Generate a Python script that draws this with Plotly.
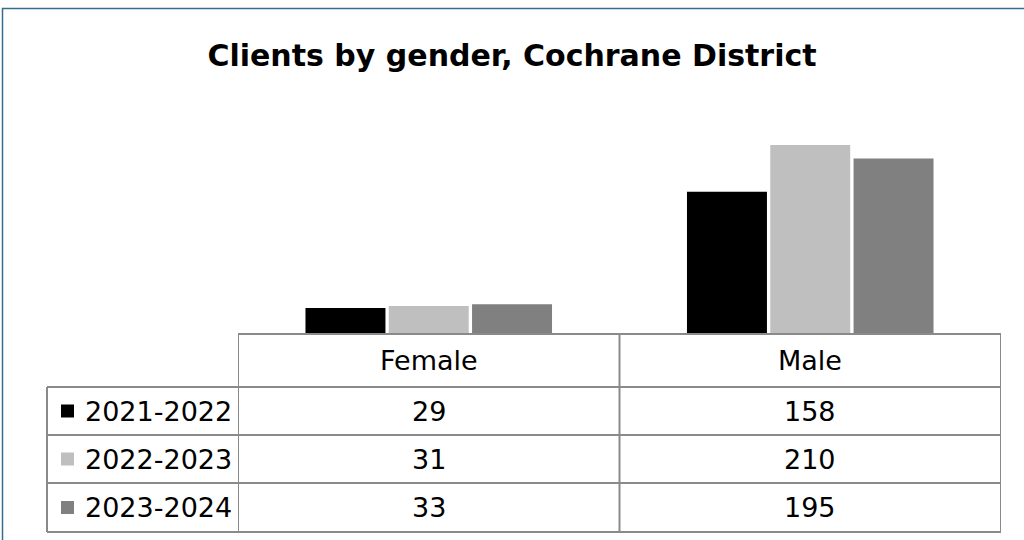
import plotly.graph_objects as go

# ---- data ----
categories = ["Female", "Male"]
series_names = ["2021-2022", "2022-2023", "2023-2024"]
values_2021_2022 = [29, 158]
values_2022_2023 = [31, 210]
values_2023_2024 = [33, 195]
series_colors = ["#000000", "#BFBFBF", "#808080"]
title_text = "Clients by gender, Cochrane District"

series_values = [values_2021_2022, values_2022_2023, values_2023_2024]

W, H = 1024, 540
FONT = "DejaVu Sans"
GRID = "#8A8A8A"


def px(x):
    return x / W


def py(y):
    return (H - y) / H


fig = go.Figure()
for name, vals, col in zip(series_names, series_values, series_colors):
    fig.add_trace(go.Bar(x=categories, y=vals, name=name,
                         marker=dict(color=col, line=dict(width=0)),
                         showlegend=False, hoverinfo="x+y+name"))

# table geometry (pixels)
plot_left, plot_right = 238, 1001
legend_left = 47
baseline = 334
row_lines = [387, 435, 483, 532]
header_center = 360

shapes = []
line_style = dict(color=GRID, width=2)
shapes.append(dict(type="line", xref="paper", yref="paper",
                   x0=px(plot_left), x1=px(plot_right), y0=py(baseline), y1=py(baseline),
                   line=line_style))
for ry in row_lines:
    shapes.append(dict(type="line", xref="paper", yref="paper",
                       x0=px(legend_left), x1=px(plot_right), y0=py(ry), y1=py(ry),
                       line=line_style))
n = len(categories)
for b in [i - 0.5 for i in range(n + 1)]:
    shapes.append(dict(type="line", xref="x", yref="paper",
                       x0=b, x1=b, y0=py(baseline), y1=py(row_lines[-1]),
                       line=line_style))
shapes.append(dict(type="line", xref="paper", yref="paper",
                   x0=px(legend_left), x1=px(legend_left), y0=py(row_lines[0]), y1=py(row_lines[-1]),
                   line=line_style))
# outer chart border
shapes.append(dict(type="rect", xref="paper", yref="paper",
                   x0=px(2.5), x1=1.05, y0=-0.05, y1=py(8.5),
                   line=dict(color="#356D8E", width=1.5), fillcolor="rgba(0,0,0,0)"))

annotations = []
tfont = dict(family=FONT, size=27, color="#000000")
for c in categories:
    annotations.append(dict(x=c, y=py(header_center), xref="x", yref="paper",
                            text=c, showarrow=False, font=tfont,
                            xanchor="center", yanchor="middle"))
for k, (name, vals, col) in enumerate(zip(series_names, series_values, series_colors)):
    top = row_lines[k]
    bot = row_lines[k + 1]
    cy = (top + bot) / 2
    shapes.append(dict(type="rect", xref="paper", yref="paper",
                       x0=px(61), x1=px(74), y0=py(cy + 6.5), y1=py(cy - 6.5),
                       line=dict(width=0), fillcolor=col))
    annotations.append(dict(x=px(83), y=py(cy), xref="paper", yref="paper",
                            text=name, showarrow=False, font=tfont,
                            xanchor="left", yanchor="middle"))
    for c, v in zip(categories, vals):
        annotations.append(dict(x=c, y=py(cy), xref="x", yref="paper",
                                text=str(v), showarrow=False, font=tfont,
                                xanchor="center", yanchor="middle"))

fig.update_layout(
    width=W, height=H, autosize=False,
    margin=dict(l=0, r=0, t=0, b=0),
    paper_bgcolor="white", plot_bgcolor="white",
    title=dict(text=f"<b>{title_text}</b>", x=0.5, xanchor="center",
               y=py(55), yanchor="middle", yref="paper",
               font=dict(family=FONT, size=30, color="#000000")),
    barmode="group", bargap=0.345, bargroupgap=0.04,
    xaxis=dict(domain=[px(plot_left), px(plot_right)], range=[-0.5, n - 0.5],
               showticklabels=False, showgrid=False, zeroline=False, showline=False,
               ticks=""),
    yaxis=dict(domain=[py(baseline), py(109)], range=[0, 250],
               showticklabels=False, showgrid=False, zeroline=False, showline=False,
               ticks=""),
    shapes=shapes,
    annotations=annotations,
    showlegend=False,
)

fig.write_html("out.html", config={"displayModeBar": False},
               post_script="document.body.style.margin='0';document.body.style.overflow='hidden';")
